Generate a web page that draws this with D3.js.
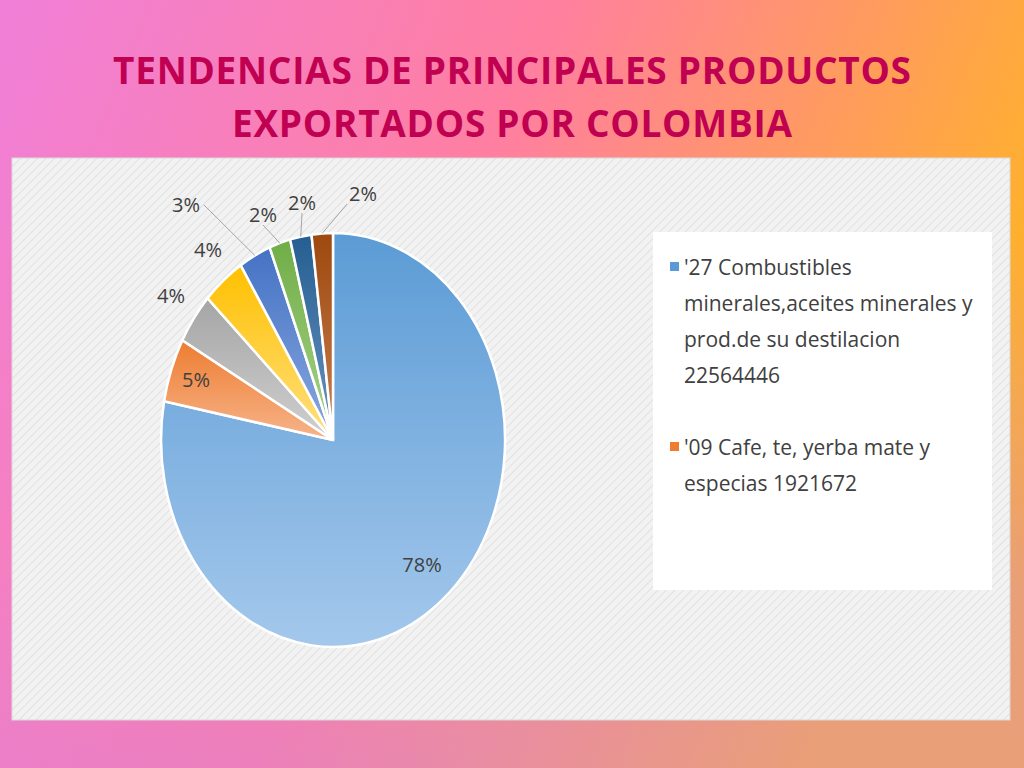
<!DOCTYPE html><html><head><meta charset="utf-8">
<script src="https://cdn.jsdelivr.net/npm/d3@7"></script>
<style>body{margin:0}svg{display:block}</style></head><body>
<script>
const labels=["'27 Combustibles minerales,aceites minerales y prod.de su destilacion 22564446","'09 Cafe, te, yerba mate y especias 1921672","c3","c4","c5","c6","c7","c8"];
const values=[78,5,4,4,3,2,2,2];
const pctLabels=["78%","5%","4%","4%","3%","2%","2%","2%"];
const colors=["#5b9bd5","#ed7d31","#a5a5a5","#ffc000","#4472c4","#70ad47","#255e91","#9e480e"];
const light=["#a4c8ec","#f7b48a","#d0d0d0","#ffe080","#8aa8e0","#a8d48a","#6a94c0","#c88050"];
const W=1024,H=768;
const svg=d3.select("body").append("svg").attr("width",W).attr("height",H);
const defs=svg.append("defs");
const bg=defs.append("linearGradient").attr("id","bg").attr("x1",0).attr("y1",0).attr("x2",1).attr("y2",0.3);
bg.append("stop").attr("offset",0).attr("stop-color","#f07fd8");
bg.append("stop").attr("offset",0.5).attr("stop-color","#ff7fa0");
bg.append("stop").attr("offset",1).attr("stop-color","#ffb02e");
const bg2=defs.append("linearGradient").attr("id","bg2").attr("x1",0).attr("y1",0).attr("x2",0.4).attr("y2",1);
bg2.append("stop").attr("offset",0.6).attr("stop-color","#c080ff").attr("stop-opacity",0);
bg2.append("stop").attr("offset",1).attr("stop-color","#c080ff").attr("stop-opacity",0.35);
svg.append("rect").attr("width",W).attr("height",H).attr("fill","url(#bg)");
svg.append("rect").attr("width",W).attr("height",H).attr("fill","url(#bg2)");
const pat=defs.append("pattern").attr("id","hatch").attr("width",6).attr("height",6).attr("patternUnits","userSpaceOnUse").attr("patternTransform","rotate(45)");
pat.append("rect").attr("width",6).attr("height",6).attr("fill","#f2f2f2");
pat.append("line").attr("x1",0).attr("y1",0).attr("x2",0).attr("y2",6).attr("stroke","#dcdcdc").attr("stroke-width",1.5);
svg.append("text").attr("x",512).attr("y",84).attr("text-anchor","middle").attr("font-family","Open Sans").attr("font-weight","bold").attr("font-size",37).attr("textLength",798).attr("fill","#c00050").text("TENDENCIAS DE PRINCIPALES PRODUCTOS");
svg.append("text").attr("x",512).attr("y",137).attr("text-anchor","middle").attr("font-family","Open Sans").attr("font-weight","bold").attr("font-size",37).attr("textLength",560).attr("fill","#c00050").text("EXPORTADOS POR COLOMBIA");
svg.append("rect").attr("x",12).attr("y",158).attr("width",998).attr("height",562).attr("fill","url(#hatch)").attr("stroke","#d9d9d9");
colors.forEach((c,i)=>{const g=defs.append("linearGradient").attr("id","g"+i).attr("x1",0).attr("y1",0).attr("x2",0).attr("y2",1);
g.append("stop").attr("offset",0).attr("stop-color",c);g.append("stop").attr("offset",1).attr("stop-color",light[i]);});
const cx=333,cy=440,rx=172,ry=207;
const pie=d3.pie().sort(null)(values);
const arc=d3.arc().innerRadius(0).outerRadius(1);
const gp=svg.append("g").attr("transform",`translate(${cx},${cy}) scale(${rx},${ry})`);
gp.selectAll("path").data(pie).join("path").attr("d",arc).attr("fill",(d,i)=>`url(#g${i})`)
 .attr("stroke","#fff").attr("stroke-width",2.5).attr("vector-effect","non-scaling-stroke");
const lp=[[422,565],[196,380],[171,296],[208,250],[186,205],[263,215],[302,203],[363,194]];
pie.forEach((d,i)=>{
  svg.append("text").attr("x",lp[i][0]).attr("y",lp[i][1]+7).attr("text-anchor","middle").attr("font-family","Open Sans").attr("font-size",20).attr("fill","#404040").text(pctLabels[i]);
  if(i>=4){const a=(d.startAngle+d.endAngle)/2;const px=cx+Math.sin(a)*rx,py=cy-Math.cos(a)*ry;
   svg.append("polyline").attr("points",`${px},${py} ${lp[i][0]+(i==4?18:i==7?-16:0)},${lp[i][1]+(i==4?0:10)}`).attr("fill","none").attr("stroke","#a6a6a6");}
});
svg.append("rect").attr("x",653).attr("y",232).attr("width",339).attr("height",358).attr("fill","#fff");
const lg=[{c:0,y:268,lines:["'27 Combustibles","minerales,aceites minerales y","prod.de su destilacion","22564446"]},{c:1,y:448,lines:["'09 Cafe, te, yerba mate y","especias 1921672"]}];
lg.forEach(l=>{svg.append("rect").attr("x",670).attr("y",l.y-6).attr("width",9).attr("height",9).attr("fill",colors[l.c]);
 l.lines.forEach((t,k)=>svg.append("text").attr("x",684).attr("y",l.y+7+k*36).attr("font-family","Open Sans").attr("font-size",21).attr("fill","#404040").text(t));});
</script></body></html>
